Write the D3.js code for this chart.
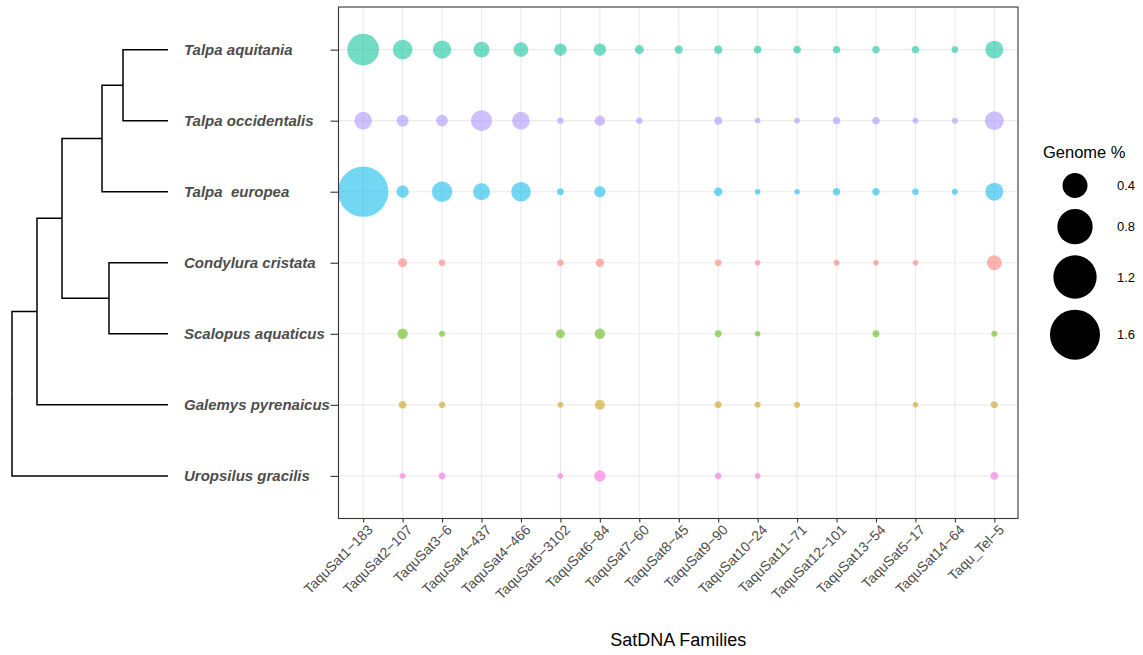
<!DOCTYPE html>
<html>
<head>
<meta charset="utf-8">
<script src="https://cdn.jsdelivr.net/npm/d3@7"></script>
<style>
  html, body { margin: 0; padding: 0; background: #fff; }
  svg { display: block; font-family: "Liberation Sans", Arial, sans-serif; }
</style>
</head>
<body>
<svg id="chart" width="1143" height="655"></svg>
<script>
// Species (rows, top to bottom) and satellite DNA families (columns)
const species = [
  "Talpa aquitania",
  "Talpa occidentalis",
  "Talpa  europea",
  "Condylura cristata",
  "Scalopus aquaticus",
  "Galemys pyrenaicus",
  "Uropsilus gracilis"
];

const families = [
  "TaquSat1−183", "TaquSat2−107", "TaquSat3−6", "TaquSat4−437", "TaquSat4−466",
  "TaquSat5−3102", "TaquSat6−84", "TaquSat7−60", "TaquSat8−45", "TaquSat9−90",
  "TaquSat10−24", "TaquSat11−71", "TaquSat12−101", "TaquSat13−54", "TaquSat5−17",
  "TaquSat14−64", "Taqu_Tel−5"
];

// Genome % per family, one array per species (null = not detected)
const talpaAquitania    = [0.64, 0.245, 0.215, 0.163, 0.137, 0.10, 0.10, 0.052, 0.041, 0.041, 0.037, 0.037, 0.035, 0.035, 0.035, 0.028, 0.207];
const talpaOccidentalis = [0.198, 0.092, 0.086, 0.281, 0.198, 0.026, 0.069, 0.026, null, 0.041, 0.020, 0.020, 0.035, 0.035, 0.023, 0.023, 0.23];
const talpaEuropea      = [1.62, 0.098, 0.265, 0.184, 0.245, 0.031, 0.082, null, null, 0.047, 0.020, 0.020, 0.035, 0.035, 0.028, 0.023, 0.207];
const condyluraCristata = [null, 0.052, 0.028, null, null, 0.028, 0.047, null, null, 0.028, 0.020, null, 0.023, 0.020, 0.020, null, 0.143];
const scalopusAquaticus = [null, 0.069, 0.023, null, null, 0.052, 0.069, null, null, 0.031, 0.020, null, null, 0.031, null, null, 0.023];
const galemysPyrenaicus = [null, 0.037, 0.026, null, null, 0.023, 0.064, null, null, 0.031, 0.023, 0.023, null, null, 0.020, null, 0.031];
const uropsilusGracilis = [null, 0.020, 0.028, null, null, 0.020, 0.082, null, null, 0.026, 0.020, null, null, null, null, null, 0.037];

const seriesValues = [talpaAquitania, talpaOccidentalis, talpaEuropea, condyluraCristata,
                      scalopusAquaticus, galemysPyrenaicus, uropsilusGracilis];

const speciesColors = ["#00C094", "#A58AFF", "#00B6EB", "#F8766D", "#53B400", "#C49A00", "#FB61D7"];

// Size legend breaks
const legendBreaks = [0.4, 0.8, 1.2, 1.6];

// Phylogeny with branch lengths
const phylogeny = { len: 0, children: [
  { len: 25, children: [
    { len: 25, children: [
      { len: 40, children: [
        { len: 21, children: [
          { name: "Talpa aquitania", len: 45 },
          { name: "Talpa occidentalis", len: 45 }
        ]},
        { name: "Talpa  europea", len: 66 }
      ]},
      { len: 47, children: [
        { name: "Condylura cristata", len: 59 },
        { name: "Scalopus aquaticus", len: 59 }
      ]}
    ]},
    { name: "Galemys pyrenaicus", len: 131 }
  ]},
  { name: "Uropsilus gracilis", len: 156 }
]};

const svg = d3.select("#chart");

const panel = { left: 338.5, right: 1018, top: 7, bottom: 518.5 };

const x = d3.scalePoint().domain(families).range([panel.left + 1, panel.right]).padding(0.6);
const y = d3.scalePoint().domain(species).range([panel.top, panel.bottom]).padding(0.6);
const r = d3.scaleSqrt().domain([0, 1.6]).range([0, 25]);
const color = d3.scaleOrdinal().domain(species).range(speciesColors);

// Grid lines
const grid = svg.append("g").attr("stroke", "#EBEBEB").attr("stroke-width", 1.1);
grid.selectAll("line.v").data(families).join("line")
  .attr("class", "v")
  .attr("x1", d => x(d)).attr("x2", d => x(d))
  .attr("y1", panel.top).attr("y2", panel.bottom);
grid.selectAll("line.h").data(species).join("line")
  .attr("class", "h")
  .attr("x1", panel.left).attr("x2", panel.right)
  .attr("y1", d => y(d)).attr("y2", d => y(d));

// Bubbles
const points = [];
species.forEach((s, i) => {
  seriesValues[i].forEach((v, j) => {
    if (v != null) points.push({ species: s, family: families[j], value: v });
  });
});
svg.append("g").selectAll("circle").data(points).join("circle")
  .attr("cx", d => x(d.family))
  .attr("cy", d => y(d.species))
  .attr("r", d => r(d.value))
  .attr("fill", d => color(d.species))
  .attr("fill-opacity", 0.55);

// Panel border
svg.append("rect")
  .attr("x", panel.left).attr("y", panel.top)
  .attr("width", panel.right - panel.left).attr("height", panel.bottom - panel.top)
  .attr("fill", "none").attr("stroke", "#333").attr("stroke-width", 1.1);

// X axis
const xAxis = svg.append("g")
  .attr("transform", `translate(0,${panel.bottom})`)
  .call(d3.axisBottom(x).tickSize(4).tickPadding(3));
xAxis.select(".domain").remove();
xAxis.selectAll(".tick line").attr("stroke", "#333").attr("stroke-width", 1.1);
xAxis.selectAll(".tick text")
  .attr("fill", "#4D4D4D")
  .style("font-size", "14px")
  .attr("text-anchor", "end")
  .attr("transform", "translate(3,5) rotate(-45)")
  .attr("dy", "0.72em")
  .attr("y", 0).attr("x", 0);

// Y axis ticks (labels sit at the tips of the tree)
const yAxis = svg.append("g")
  .attr("transform", `translate(${panel.left},0)`)
  .call(d3.axisLeft(y).tickSize(8).tickFormat(""));
yAxis.select(".domain").remove();
yAxis.selectAll(".tick line").attr("stroke", "#333").attr("stroke-width", 1.1);

// Species labels
svg.append("g").selectAll("text").data(species).join("text")
  .attr("x", 184)
  .attr("y", d => y(d))
  .attr("dy", "0.35em")
  .attr("fill", "#4D4D4D")
  .style("font-size", "15px")
  .style("font-weight", "bold")
  .style("font-style", "italic")
  .style("white-space", "pre")
  .text(d => d);

// Phylogenetic tree
const treeRoot = d3.hierarchy(phylogeny);
treeRoot.eachBefore(n => { n.depthLen = (n.parent ? n.parent.depthLen : 0) + n.data.len; });
const treeX = d3.scaleLinear().domain([0, 156]).range([12, 168]);
treeRoot.eachAfter(n => {
  n.py = n.children ? d3.mean(n.children, c => c.py) : y(n.data.name);
});
svg.append("g").selectAll("path").data(treeRoot.links()).join("path")
  .attr("d", l => `M${treeX(l.source.depthLen)},${l.source.py}V${l.target.py}H${treeX(l.target.depthLen)}`)
  .attr("fill", "none")
  .attr("stroke", "#000")
  .attr("stroke-width", 1.5);

// Axis title
svg.append("text")
  .attr("x", (panel.left + panel.right) / 2)
  .attr("y", 646)
  .attr("text-anchor", "middle")
  .style("font-size", "18px")
  .attr("fill", "#000")
  .text("SatDNA Families");

// Size legend
const legend = svg.append("g");
legend.append("text")
  .attr("x", 1043).attr("y", 158)
  .style("font-size", "16.5px")
  .attr("fill", "#000")
  .text("Genome %");
let keyTop = 167.5;
const keys = legendBreaks.map(v => {
  const h = 2 * r(v) + 11;
  const k = { value: v, cy: keyTop + h / 2 };
  keyTop += h;
  return k;
});
legend.selectAll("circle").data(keys).join("circle")
  .attr("cx", 1075).attr("cy", d => d.cy)
  .attr("r", d => r(d.value))
  .attr("fill", "#000");
legend.selectAll("text.lbl").data(keys).join("text")
  .attr("class", "lbl")
  .attr("x", 1117).attr("y", d => d.cy)
  .attr("dy", "0.35em")
  .style("font-size", "13px")
  .attr("fill", "#000")
  .text(d => d.value.toFixed(1));
</script>
</body>
</html>
